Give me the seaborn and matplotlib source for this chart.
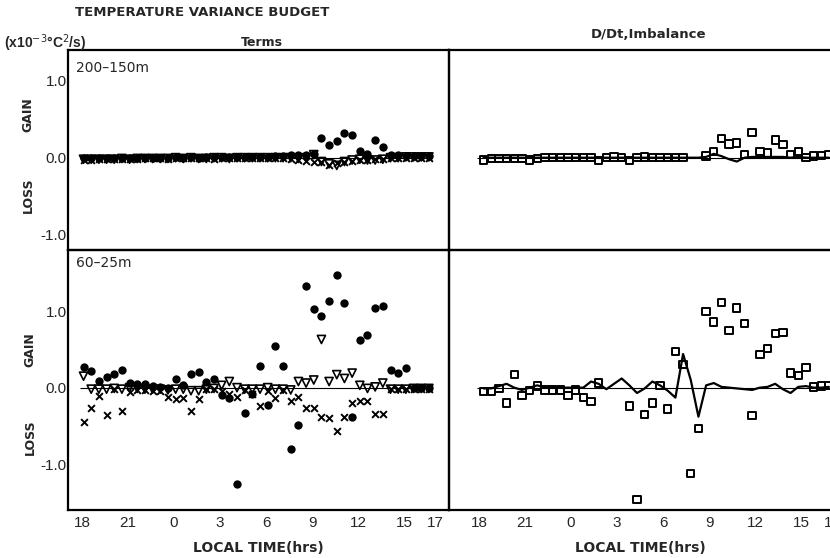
import numpy as np
import pandas as pd
import matplotlib
matplotlib.use("Agg")
import matplotlib.pyplot as plt
import seaborn as sns
from matplotlib.ticker import MultipleLocator, FixedLocator

sns.set_style("white")
plt.rcParams['font.family'] = ['Liberation Sans', 'DejaVu Sans']

# ---------------- data ----------------
hours_left = [18.1, 18.6, 19.1, 19.6, 20.1, 20.6, 21.1, 21.6, 22.1, 22.6,
              23.1, 23.6, 24.1, 24.6, 25.1, 25.6, 26.1, 26.6, 27.1, 27.6,
              28.1, 28.6, 29.1, 29.6, 30.1, 30.6, 31.1, 31.6, 32.1, 32.6,
              33.1, 33.6, 34.1, 34.6, 35.1, 35.6, 36.1, 36.6, 37.1, 37.6,
              38.1, 38.6, 39.1, 39.6, 40.1, 40.6]
hours_right = [18.3, 18.8, 19.3, 19.8, 20.3, 20.8, 21.3, 21.8, 22.3, 22.8,
               23.3, 23.8, 24.3, 24.8, 25.3, 25.8, 26.3, 26.8, 27.3, 27.8,
               28.3, 28.8, 29.3, 29.8, 30.3, 30.8, 31.3, 31.8, 32.3, 32.8,
               33.3, 33.8, 34.3, 34.8, 35.3, 35.8, 36.3, 36.8, 37.3, 37.8,
               38.3, 38.8, 39.3, 39.8, 40.3, 40.8]

# 200-150m, terms
top_circle = [-0.01, -0.01, 0.0, -0.01, 0.0, 0.0, 0.0, -0.01, 0.0, 0.0,
              0.0, 0.0, 0.01, 0.0, 0.01, 0.0, 0.01, 0.01, 0.01, 0.01,
              0.01, 0.01, 0.01, 0.01, 0.01, 0.02, 0.02, 0.03, 0.04, 0.03,
              0.05, 0.25, 0.17, 0.22, 0.32, 0.29, 0.09, 0.05, 0.23, 0.14,
              0.03, 0.03, 0.02, 0.02, 0.02, 0.02]
top_triangle = [-0.02, -0.02, -0.02, -0.02, -0.02, -0.01, -0.02, -0.01, -0.01, -0.01,
                -0.01, -0.01, 0.0, -0.01, 0.0, -0.01, -0.01, 0.0, 0.0, -0.01,
                0.0, 0.0, 0.0, 0.0, 0.0, 0.0, 0.0, 0.0, -0.01, 0.0,
                0.04, -0.05, -0.08, -0.10, -0.05, -0.03, -0.02, -0.03, -0.03, -0.02,
                0.0, 0.0, 0.01, 0.01, 0.01, 0.01]
top_cross = [-0.03, -0.03, -0.02, -0.02, -0.02, -0.02, -0.02, -0.02, -0.01, -0.01,
             -0.01, -0.02, -0.01, -0.01, -0.01, -0.01, -0.01, -0.02, -0.01, -0.01,
             -0.01, -0.01, -0.01, -0.01, 0.0, 0.0, 0.0, -0.02, -0.03, -0.04,
             -0.06, -0.05, -0.09, -0.07, -0.05, -0.04, -0.03, -0.03, -0.02, -0.02,
             -0.01, -0.01, 0.0, 0.0, 0.0, 0.0]

# 60-25m, terms
bot_circle = [0.27, 0.22, 0.09, 0.14, 0.18, 0.23, 0.06, 0.05, 0.05, 0.02,
              0.01, 0.00, 0.11, 0.03, 0.18, 0.21, 0.08, 0.11, -0.10, -0.13,
              -1.26, -0.33, -0.08, 0.28, -0.23, 0.54, 0.28, -0.80, -0.49, 1.33,
              1.03, 0.94, 1.13, 1.47, 1.11, -0.39, 0.62, 0.69, 1.04, 1.07,
              0.23, 0.19, 0.26, 0.00, 0.00, 0.00]
bot_triangle = [0.15, -0.02, -0.02, -0.02, -0.01, -0.02, 0.0, -0.01, -0.02, -0.02,
                -0.02, -0.03, -0.02, -0.02, -0.04, -0.04, -0.02, -0.01, 0.03, 0.08,
                0.0, -0.02, -0.02, -0.02, 0.0, -0.02, -0.02, -0.03, 0.08, 0.06,
                0.10, 0.63, 0.08, 0.17, 0.12, 0.19, 0.03, -0.01, 0.01, 0.06,
                -0.02, -0.02, -0.02, -0.01, -0.01, -0.01]
bot_cross = [-0.45, -0.27, -0.11, -0.36, -0.02, -0.31, -0.06, -0.03, -0.03, -0.04,
             -0.04, -0.12, -0.15, -0.13, -0.30, -0.15, -0.02, -0.02, -0.05, -0.08,
             -0.12, -0.03, -0.08, -0.24, -0.04, -0.13, -0.03, -0.17, -0.12, -0.26,
             -0.26, -0.39, -0.40, -0.57, -0.39, -0.20, -0.17, -0.17, -0.35, -0.35,
             -0.02, -0.02, -0.02, -0.02, -0.02, -0.02]

# D/Dt (line) and imbalance (squares)
top_square = [-0.03, -0.01, -0.01, -0.01, -0.01, -0.01, -0.03, -0.01, 0.0, 0.0,
              0.0, 0.0, 0.0, 0.0, 0.0, -0.04, 0.0, 0.01, 0.0, -0.04,
              0.0, 0.01, 0.0, 0.0, 0.0, 0.0, 0.0, np.nan, np.nan, 0.02,
              0.08, 0.25, 0.18, 0.19, 0.04, 0.33, 0.08, 0.06, 0.23, 0.17,
              0.04, 0.08, 0.0, 0.02, 0.03, 0.04]
top_ddt = [0.0, 0.0, 0.0, 0.0, 0.0, 0.0, 0.0, 0.0, 0.0, 0.0,
           0.0, 0.0, 0.0, 0.0, 0.0, 0.0, 0.0, 0.0, 0.0, 0.0,
           0.0, 0.0, 0.0, 0.0, 0.0, 0.0, 0.0, 0.0, 0.0, 0.01,
           0.05, 0.02, -0.02, -0.05, 0.0, 0.01, 0.01, 0.01, 0.01, 0.01,
           0.0, 0.01, 0.0, 0.0, 0.0, 0.0]
bot_square = [-0.05, -0.05, -0.01, -0.20, 0.17, -0.10, -0.04, 0.02, -0.03, -0.03,
              -0.03, -0.10, -0.03, -0.13, -0.18, 0.06, np.nan, np.nan, np.nan, -0.24,
              -1.46, -0.35, -0.20, 0.03, -0.28, 0.47, 0.30, -1.12, -0.53, 1.00,
              0.86, 1.11, 0.75, 1.04, 0.84, -0.36, 0.43, 0.51, 0.71, 0.72,
              0.19, 0.16, 0.26, 0.01, 0.02, 0.03]
bot_ddt = [-0.01, -0.01, 0.02, 0.05, 0.0, -0.03, 0.0, 0.03, 0.0, 0.0,
           0.0, 0.0, 0.0, 0.0, 0.08, 0.05, -0.02, 0.05, 0.12, 0.03,
           -0.07, -0.01, 0.08, 0.03, -0.04, -0.13, 0.44, 0.10, -0.38, 0.03,
           0.06, 0.01, 0.0, -0.01, -0.02, -0.03, 0.0, 0.01, 0.05, -0.02,
           -0.07, 0.01, 0.02, 0.0, 0.0, 0.01]

tick_pos = [18, 21, 24, 27, 30, 33, 36, 39, 41]
tick_lab = ["18", "21", "0", "3", "6", "9", "12", "15", "17"]

# ---------------- figure ----------------
W, H = 830, 558
fig = plt.figure(figsize=(W / 100, H / 100), dpi=100)


def px_axes(x0, y0, x1, y1):
    return fig.add_axes([x0 / W, 1 - y1 / H, (x1 - x0) / W, (y1 - y0) / H])


axTL = px_axes(68, 50, 449, 250)
axBL = px_axes(68, 250, 449, 510)
axTR = px_axes(449, 50, 860, 250)
axBR = px_axes(449, 250, 860, 510)

left_xlim = (17.09, 17.09 + 381 / 15.35)
right_xlim = (16.05, 16.05 + 411 / 15.35)

dfL_top = pd.DataFrame({"t": hours_left, "c": top_circle, "v": top_triangle, "x": top_cross})
dfL_bot = pd.DataFrame({"t": hours_left, "c": bot_circle, "v": bot_triangle, "x": bot_cross})
dfR_top = pd.DataFrame({"t": hours_right, "s": top_square, "d": top_ddt})
dfR_bot = pd.DataFrame({"t": hours_right, "s": bot_square, "d": bot_ddt})


def draw_terms(ax, df):
    ax.hlines(0, df["t"].min() - 0.2, df["t"].max() + 0.2, color="black", lw=0.8, zorder=1)
    sns.scatterplot(data=df, x="t", y="x", marker="x", color="black", s=24,
                    linewidth=1.4, ax=ax, zorder=3)
    sns.scatterplot(data=df, x="t", y="v", marker="v", s=34, color="black",
                    linewidth=1.2, ax=ax, zorder=3)
    ax.collections[-1].set_facecolor("none")
    ax.collections[-1].set_edgecolor("black")
    sns.scatterplot(data=df, x="t", y="c", marker="o", color="black", s=36,
                    linewidth=0, ax=ax, zorder=4)


def draw_imb(ax, df):
    ax.hlines(0, df["t"].min() - 0.4, df["t"].max() + 0.2, color="black", lw=0.8, zorder=1)
    sns.lineplot(data=df, x="t", y="d", color="black", lw=1.6, ax=ax, zorder=2)
    sns.scatterplot(data=df, x="t", y="s", marker="s", s=28, color="black",
                    linewidth=1.4, ax=ax, zorder=3)
    ax.collections[-1].set_facecolor("none")
    ax.collections[-1].set_edgecolor("black")


draw_terms(axTL, dfL_top)
draw_terms(axBL, dfL_bot)
draw_imb(axTR, dfR_top)
draw_imb(axBR, dfR_bot)

for ax, ylim in [(axTL, (-1.2, 1.4)), (axTR, (-1.2, 1.4)),
                 (axBL, (-1.6, 1.8)), (axBR, (-1.6, 1.8))]:
    ax.set_ylim(*ylim)
    ax.set_xlabel("")
    ax.set_ylabel("")
    ax.yaxis.set_major_locator(FixedLocator([-1.0, 0.0, 1.0]))
    ax.yaxis.set_minor_locator(MultipleLocator(0.2))
    ax.xaxis.set_major_locator(FixedLocator(tick_pos))
    ax.tick_params(axis="both", which="both", direction="in", color="black",
                   width=1.3, top=False, right=False)
    ax.tick_params(axis="y", which="both", length=7)
    ax.tick_params(axis="x", which="both", length=6)
    for sp in ax.spines.values():
        sp.set_color("black")
        sp.set_linewidth(1.6)
    ax.set_facecolor("none")

for ax in (axTL, axBL):
    ax.set_xlim(*left_xlim)
for ax in (axTR, axBR):
    ax.set_xlim(*right_xlim)
    ax.spines["right"].set_visible(False)
    ax.set_yticklabels([])

for ax in (axTL, axBL):
    ax.set_yticklabels(["-1.0", "0.0", "1.0"], fontsize=11)
    ax.tick_params(axis="y", pad=1)

for ax in (axTL, axTR):
    ax.set_xticklabels([])
for ax in (axBL, axBR):
    ax.set_xticklabels(tick_lab, fontsize=11)
    ax.tick_params(axis="x", pad=4)

# ---------------- texts ----------------
def ftext(x, y, s, **kw):
    fig.text(x / W, 1 - y / H, s, **kw)

wide = ['DejaVu Sans']
ftext(75, 12, "TEMPERATURE VARIANCE BUDGET", fontsize=9.5, fontweight="bold",
      family=wide, ha="left", va="center")
ftext(4, 43, r"(x10$^{-3}$°C$^{2}$/s)", fontsize=10, fontweight="bold", ha="left", va="center")
ftext(262, 43, "Terms", fontsize=9, fontweight="bold", family=wide, ha="center", va="center")
ftext(648, 35, "D/Dt,Imbalance", fontsize=9.5, fontweight="bold", family=wide,
      ha="center", va="center")
ftext(76, 68, "200\u2013150m", fontsize=10, family=wide, ha="left", va="center")
ftext(76, 263, "60\u201325m", fontsize=10, family=wide, ha="left", va="center")
ftext(28, 115, "GAIN", fontsize=9, fontweight="bold", family=wide, rotation=90, ha="center", va="center")
ftext(28, 195, "LOSS", fontsize=9, fontweight="bold", family=wide, rotation=90, ha="center", va="center")
ftext(30, 350, "GAIN", fontsize=9, fontweight="bold", family=wide, rotation=90, ha="center", va="center")
ftext(30, 437, "LOSS", fontsize=9, fontweight="bold", family=wide, rotation=90, ha="center", va="center")
ftext(258, 548, "LOCAL TIME(hrs)", fontsize=10, fontweight="bold", family=wide,
      ha="center", va="center")
ftext(640, 548, "LOCAL TIME(hrs)", fontsize=10, fontweight="bold", family=wide,
      ha="center", va="center")

fig.savefig("out.png", dpi=100)
